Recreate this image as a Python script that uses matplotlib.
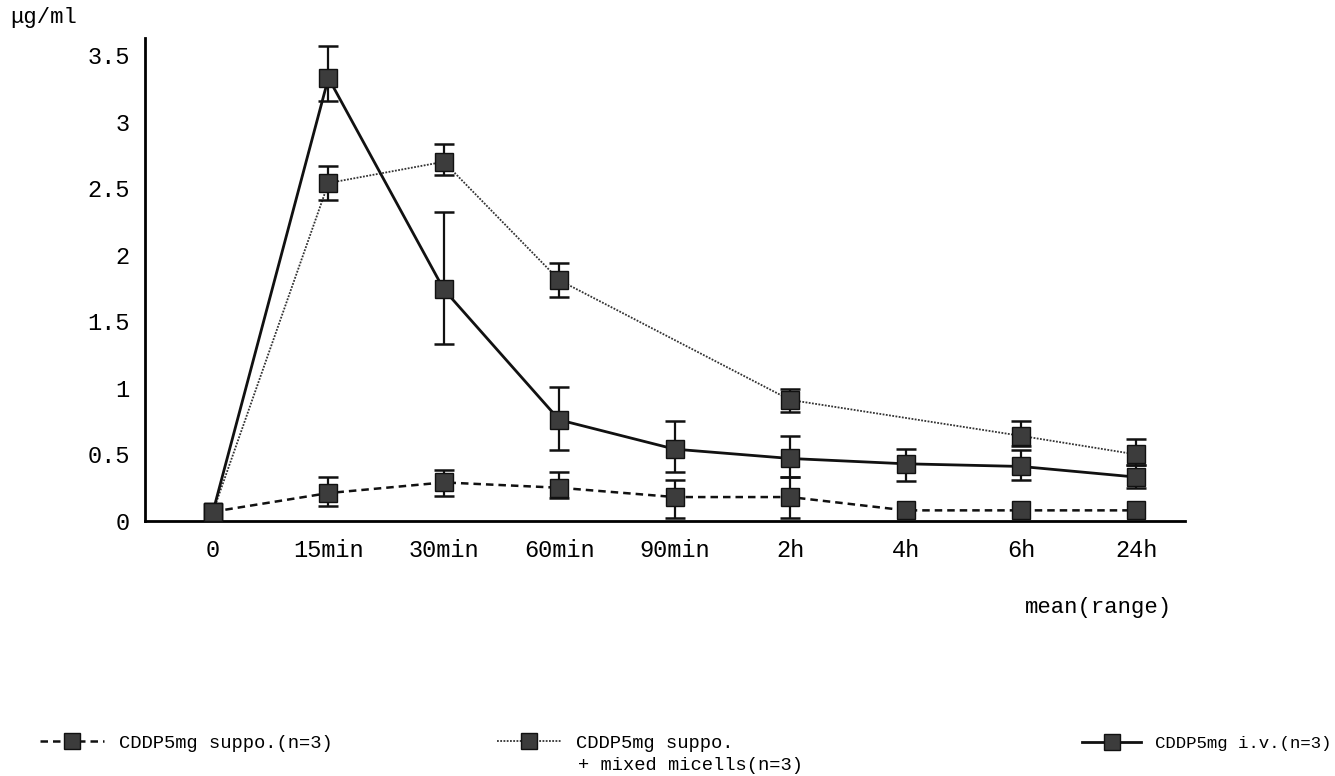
import numpy as np
import matplotlib
matplotlib.use('Agg')
import matplotlib.pyplot as plt
from matplotlib.lines import Line2D

plt.rcParams['font.family'] = ['Liberation Mono', 'DejaVu Sans Mono']

# time points
times = ['0', '15min', '30min', '60min', '90min', '2h', '4h', '6h', '24h']

# CDDP5mg suppo. (n=3) - dashed
supp_mean = [0.07, 0.21, 0.29, 0.25, 0.18, 0.18, 0.08, 0.08, 0.08]
supp_lo = [None, 0.11, 0.19, 0.17, 0.02, 0.02, None, None, None]
supp_hi = [None, 0.33, 0.38, 0.37, 0.31, 0.33, None, None, None]

# CDDP5mg suppo. + mixed micells (n=3) - dotted
mic_mean = [0.07, 2.54, 2.70, 1.81, None, 0.91, None, 0.64, 0.50]
mic_lo = [None, 2.41, 2.60, 1.68, None, 0.82, None, 0.56, 0.42]
mic_hi = [None, 2.67, 2.83, 1.94, None, 0.99, None, 0.75, 0.62]

# CDDP5mg i.v. (n=3) - solid
iv_mean = [0.07, 3.33, 1.74, 0.76, 0.54, 0.47, 0.43, 0.41, 0.33]
iv_lo = [None, 3.16, 1.33, 0.53, 0.37, 0.33, 0.30, 0.31, 0.25]
iv_hi = [None, 3.57, 2.32, 1.01, 0.75, 0.64, 0.54, 0.53, 0.42]

yticks = [0, 0.5, 1, 1.5, 2, 2.5, 3, 3.5]
ytick_labels = ['0', '0.5', '1', '1.5', '2', '2.5', '3', '3.5']

fig = plt.figure(figsize=(13.35, 7.76), dpi=100)
ax = fig.add_axes([0.1086, 0.3286, 0.779, 0.6224])

mface = '#3c3c3c'
styles = {
    'supp': dict(ls=(0, (3, 2)), lw=1.8, color='#111111'),
    'mic': dict(ls=(0, (1, 0.8)), lw=1.3, color='#333333'),
    'iv': dict(ls='-', lw=2.0, color='#111111'),
}


def draw(mean, lo, hi, st):
    x = np.array([i for i, v in enumerate(mean) if v is not None])
    y = np.array([v for v in mean if v is not None])
    ax.plot(x, y, linestyle=st['ls'], lw=st['lw'], color=st['color'], zorder=2)
    ex, ey, el, eh = [], [], [], []
    for i, (m, l, h) in enumerate(zip(mean, lo, hi)):
        if m is None or l is None:
            continue
        ex.append(i)
        ey.append(m)
        el.append(m - l)
        eh.append(h - m)
    ax.errorbar(ex, ey, yerr=[el, eh], fmt='none', ecolor='#111111',
                elinewidth=1.6, capsize=7.5, capthick=1.8, zorder=3)
    ax.plot(x, y, linestyle='none', marker='s', ms=13, mfc=mface,
            mec='#111111', mew=1.0, zorder=4)


draw(mic_mean, mic_lo, mic_hi, styles['mic'])
draw(iv_mean, iv_lo, iv_hi, styles['iv'])
draw(supp_mean, supp_lo, supp_hi, styles['supp'])

ax.set_xlim(-0.589, 8.42)
ax.set_ylim(0, 3.63)
ax.set_xticks(range(len(times)))
ax.set_xticklabels(times)
ax.set_yticks(yticks)
ax.set_yticklabels(ytick_labels)
ax.tick_params(axis='both', length=0, labelsize=17)
ax.tick_params(axis='y', pad=11)
ax.tick_params(axis='x', pad=13)
ax.spines['top'].set_visible(False)
ax.spines['right'].set_visible(False)
ax.spines['left'].set_linewidth(2.0)
ax.spines['bottom'].set_linewidth(2.0)

fig.text(0.008, 1 - 17 / 776, 'μg/ml', fontsize=16, va='center', ha='left')
fig.text(1172 / 1335, 1 - 608 / 776, 'mean(range)', fontsize=16,
         va='center', ha='right')

# legends
leg_specs = [
    ('supp', 'CDDP5mg suppo.(n=3)', 40 / 1335, 13.5),
    ('mic', 'CDDP5mg suppo.', 497 / 1335, 13.5),
    ('iv', 'CDDP5mg i.v.(n=3)', 1082 / 1335, 12.5),
]
for key, label, lx, fs in leg_specs:
    st = styles[key]
    h = Line2D([], [], linestyle=st['ls'], lw=st['lw'], color=st['color'],
               marker='s', ms=12, mfc=mface, mec='#111111')
    fig.legend(handles=[h], labels=[label], loc='center left',
               bbox_to_anchor=(lx, 1 - 743 / 776), frameon=False,
               borderaxespad=0, borderpad=0, handlelength=3.4,
               handletextpad=0.8, fontsize=fs)
fig.text(578 / 1335, 1 - 766 / 776, '+ mixed micells(n=3)', fontsize=13.5,
         va='center', ha='left')

fig.savefig('out.png', dpi=100)
